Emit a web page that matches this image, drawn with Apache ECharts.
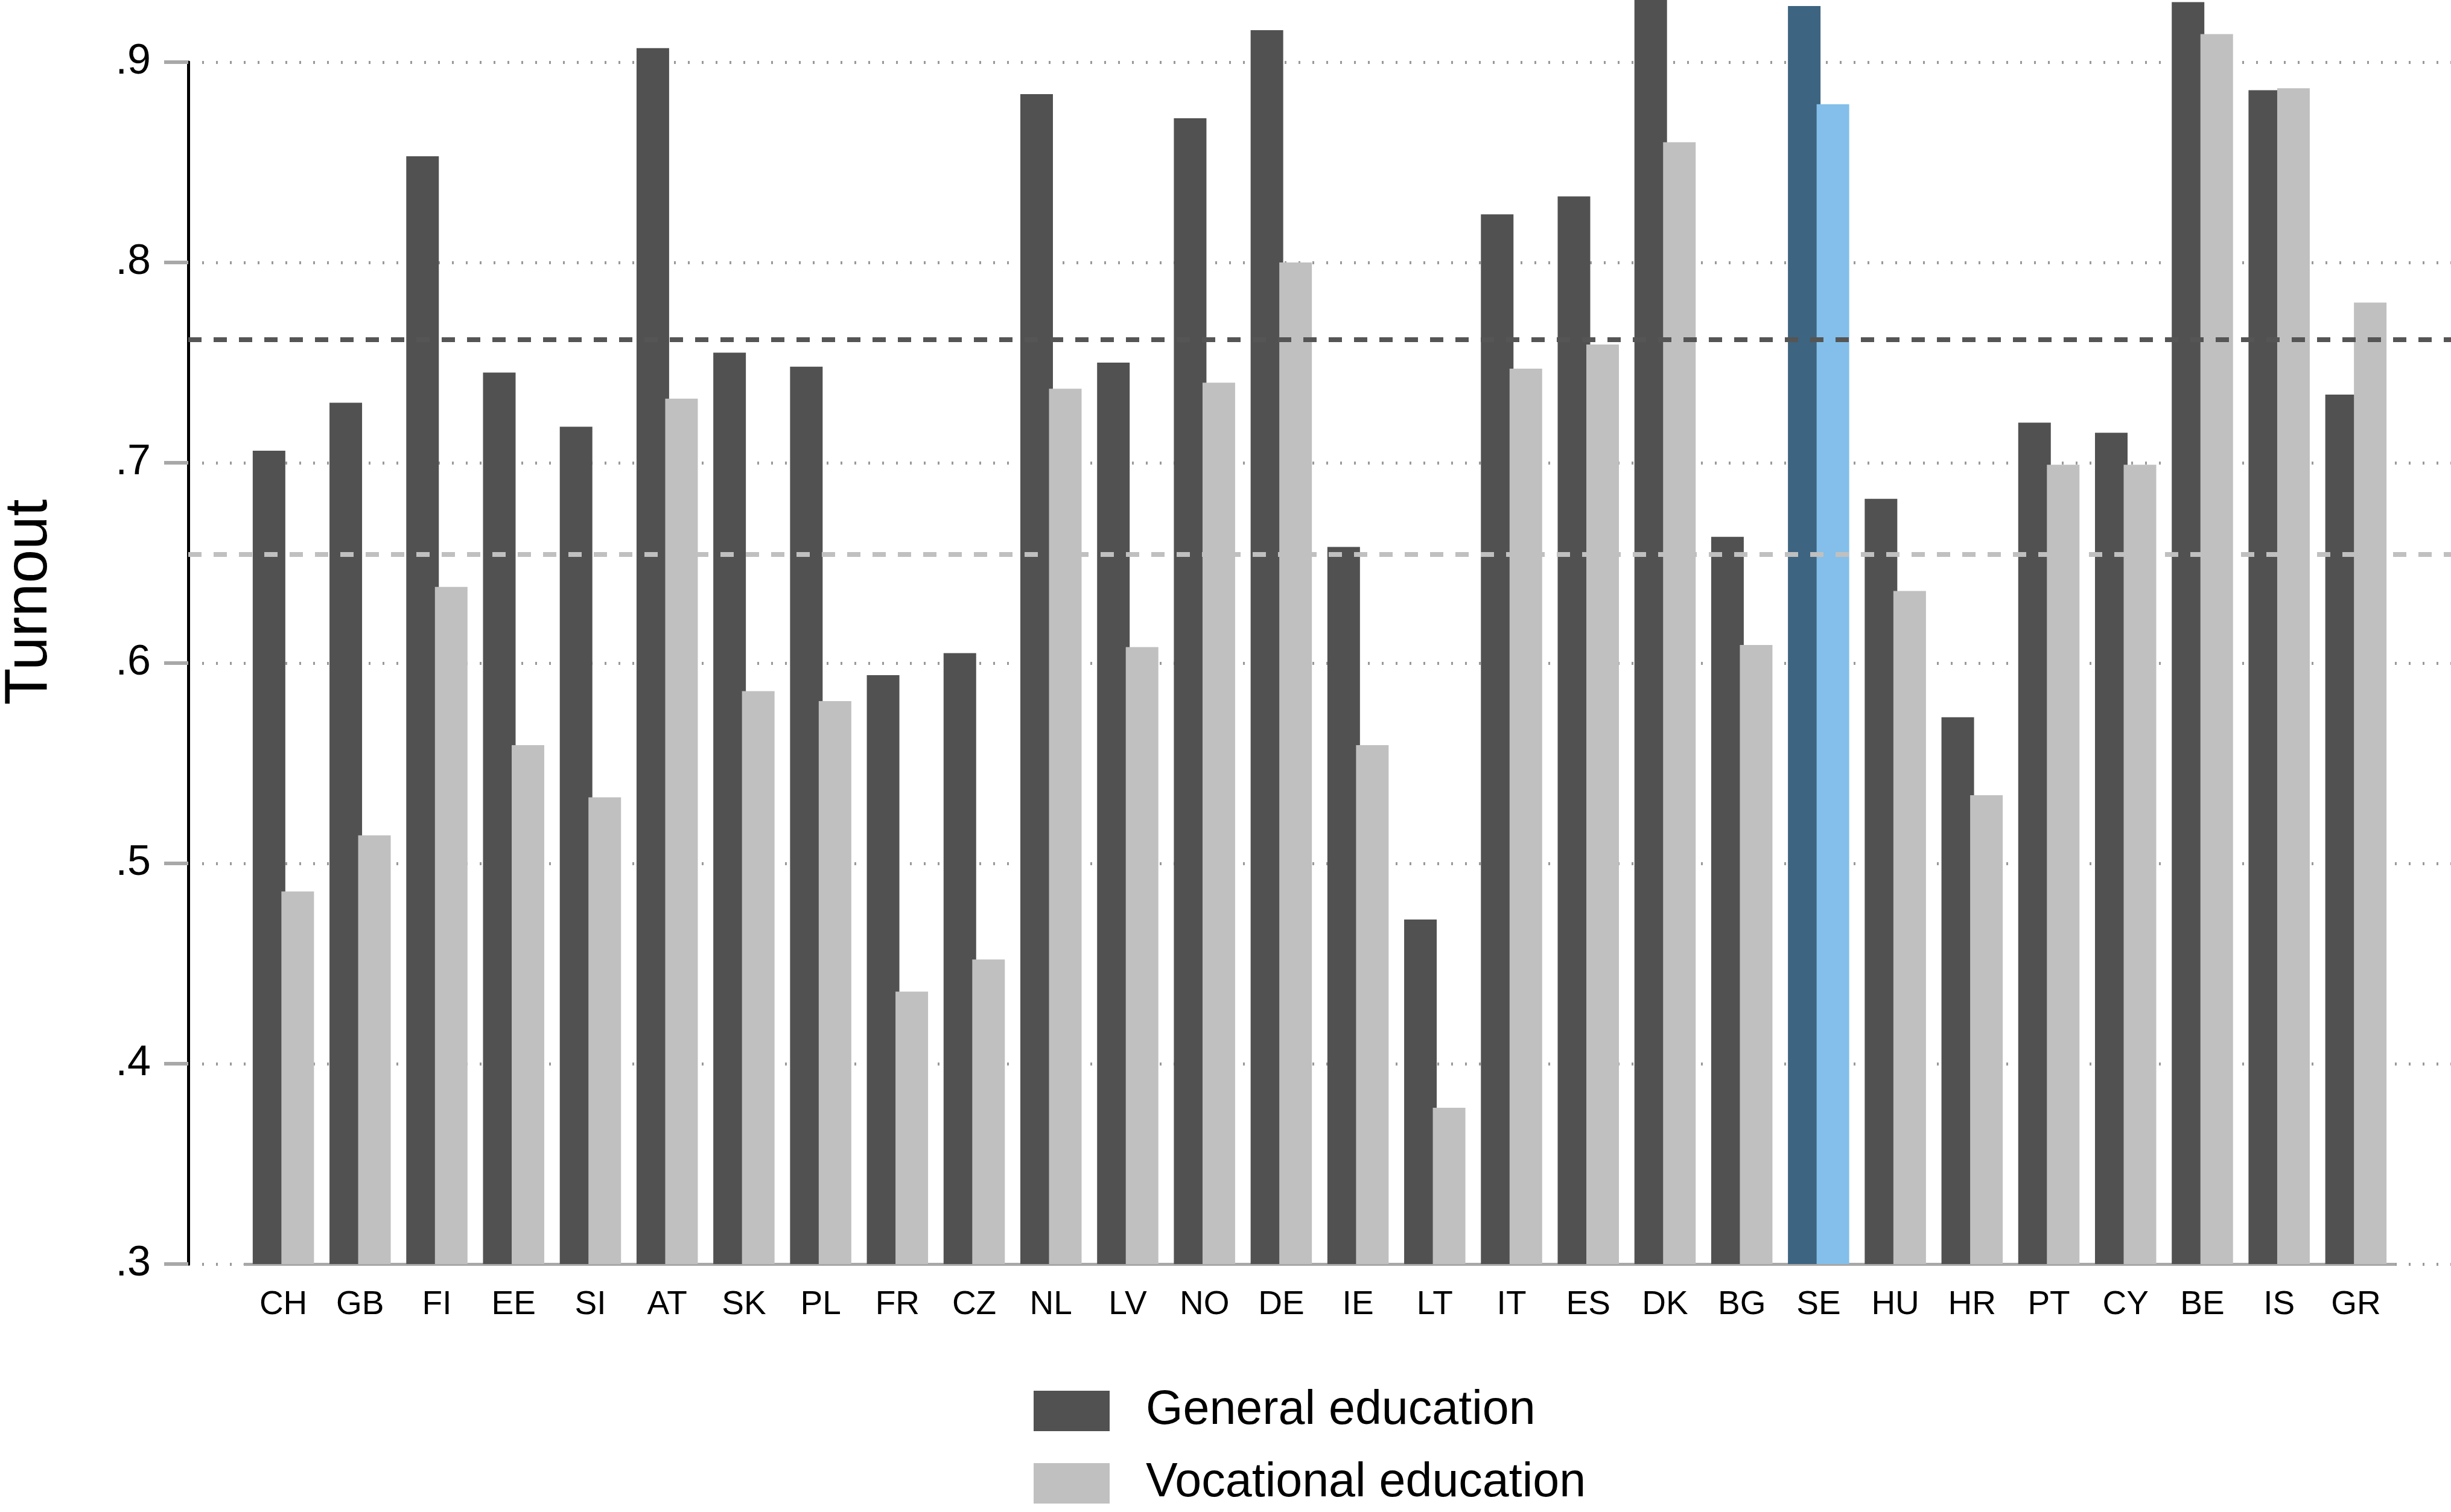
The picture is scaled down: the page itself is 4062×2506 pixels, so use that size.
<!DOCTYPE html>
<html>
<head>
<meta charset="utf-8">
<title>Turnout by education track</title>
<script src="https://cdn.jsdelivr.net/npm/echarts@6/dist/echarts.min.js"></script>
<style>
  html, body { margin: 0; padding: 0; background: #fff; }
  #main-chart { width: 4062px; height: 2506px; }
</style>
</head>
<body>
<div id="main-chart"></div>
<script>
const countries = ['CH', 'GB', 'FI', 'EE', 'SI', 'AT', 'SK', 'PL', 'FR', 'CZ', 'NL', 'LV', 'NO', 'DE',
  'IE', 'LT', 'IT', 'ES', 'DK', 'BG', 'SE', 'HU', 'HR', 'PT', 'CY', 'BE', 'IS', 'GR']
const generalTurnout = [0.706, 0.730, 0.853, 0.745, 0.718, 0.907, 0.755, 0.748, 0.594, 0.605, 0.884, 0.750, 0.872, 0.916,
  0.658, 0.472, 0.824, 0.833, 0.950, 0.663, 0.928, 0.682, 0.573, 0.720, 0.715, 0.930, 0.886, 0.734]
const vocationalTurnout = [0.486, 0.514, 0.638, 0.559, 0.533, 0.732, 0.586, 0.581, 0.436, 0.452, 0.737, 0.608, 0.740, 0.800,
  0.559, 0.378, 0.747, 0.759, 0.860, 0.609, 0.879, 0.636, 0.534, 0.699, 0.699, 0.914, 0.887, 0.780]
const meanGeneral = 0.7614
const meanVocational = 0.6543
const highlighted = 'SE'
const yTicks = [0.3, 0.4, 0.5, 0.6, 0.7, 0.8, 0.9]
const legendNames = ['General education', 'Vocational education']

const FONT = '"Liberation Sans", Arial, Helvetica, sans-serif'
const colors = {
  general: '#515151',
  vocational: '#c0c0c0',
  generalHl: '#3d6480',
  vocationalHl: '#83bfea'
}

const fmtTick = v => v.toFixed(1).replace(/^0/, '')
const asBars = (values, hlColor) => values.map((v, i) => countries[i] === highlighted
  ? { value: v, itemStyle: { color: hlColor } }
  : v)
// one legend box per entry so they stack like the original key
const legendBox = (name, top) => ({
  data: [name],
  left: 1708,
  top: top,
  icon: 'rect',
  itemWidth: 126,
  itemHeight: 67,
  selectedMode: false,
  textStyle: { fontSize: 79, lineHeight: 67, color: '#000', padding: [0, 0, 0, 55], fontFamily: FONT }
})

const chart = echarts.init(document.getElementById('main-chart'))

// grid 0 carries the y axis, gridlines and reference lines across the full width,
// grid 1 holds the bars with the same vertical scale but a narrower category band
const plotTop = 103
const plotBottom = 411
const pxPerUnit = (2506 - plotTop - plotBottom) / (yTicks[yTicks.length - 1] - yTicks[0])
const barsMax = yTicks[0] + (2506 - plotBottom) / pxPerUnit

chart.setOption({
  animation: false,
  textStyle: { fontFamily: FONT },
  grid: [
    { left: 312, right: 0, top: plotTop, bottom: plotBottom },
    { left: 406, right: 94, top: 0, bottom: plotBottom }
  ],
  xAxis: [
    { gridIndex: 0, type: 'value', min: 0, max: 1, show: false },
    {
      gridIndex: 1,
      type: 'category',
      data: countries,
      axisLine: { lineStyle: { color: '#a8a8a8', width: 5 } },
      axisTick: { show: false },
      axisLabel: { fontSize: 55, color: '#000', margin: 40, fontFamily: FONT }
    }
  ],
  yAxis: [
    {
      gridIndex: 0,
      type: 'value',
      min: yTicks[0],
      max: yTicks[yTicks.length - 1],
      interval: 0.1,
      axisLine: { show: true, lineStyle: { color: '#000', width: 5 } },
      axisTick: { show: true, length: 40, lineStyle: { color: '#a8a8a8', width: 6 } },
      axisLabel: { fontSize: 70, color: '#000', margin: 62, formatter: fmtTick, fontFamily: FONT },
      splitLine: { show: true, lineStyle: { color: '#9a9a9a', width: 5, type: [3, 20] } }
    },
    { gridIndex: 1, type: 'value', min: yTicks[0], max: barsMax, show: false, splitLine: { show: false } }
  ],
  legend: [
    legendBox(legendNames[0], 2294),
    legendBox(legendNames[1], 2414)
  ],
  graphic: [{
    type: 'text',
    x: 49,
    y: 998,
    rotation: Math.PI / 2,
    style: {
      text: 'Turnout',
      fontSize: 100,
      fontFamily: FONT,
      fill: '#000',
      align: 'center',
      verticalAlign: 'middle'
    }
  }],
  series: [
    {
      name: 'means',
      type: 'line',
      xAxisIndex: 0,
      yAxisIndex: 0,
      data: [],
      z: 1,
      silent: true,
      markLine: {
        silent: true,
        symbol: 'none',
        precision: 4,
        label: { show: false },
        data: [
          { yAxis: meanGeneral, lineStyle: { color: '#555555', width: 8, type: [22, 20] } },
          { yAxis: meanVocational, lineStyle: { color: '#c0c0c0', width: 8, type: [22, 20] } }
        ]
      }
    },
    {
      name: legendNames[0],
      type: 'bar',
      xAxisIndex: 1,
      yAxisIndex: 1,
      z: 3,
      barWidth: 54,
      barGap: '-12%',
      itemStyle: { color: colors.general },
      data: asBars(generalTurnout, colors.generalHl)
    },
    {
      name: legendNames[1],
      type: 'bar',
      xAxisIndex: 1,
      yAxisIndex: 1,
      z: 3,
      barWidth: 54,
      barGap: '-12%',
      itemStyle: { color: colors.vocational },
      data: asBars(vocationalTurnout, colors.vocationalHl)
    }
  ]
})
</script>
</body>
</html>
